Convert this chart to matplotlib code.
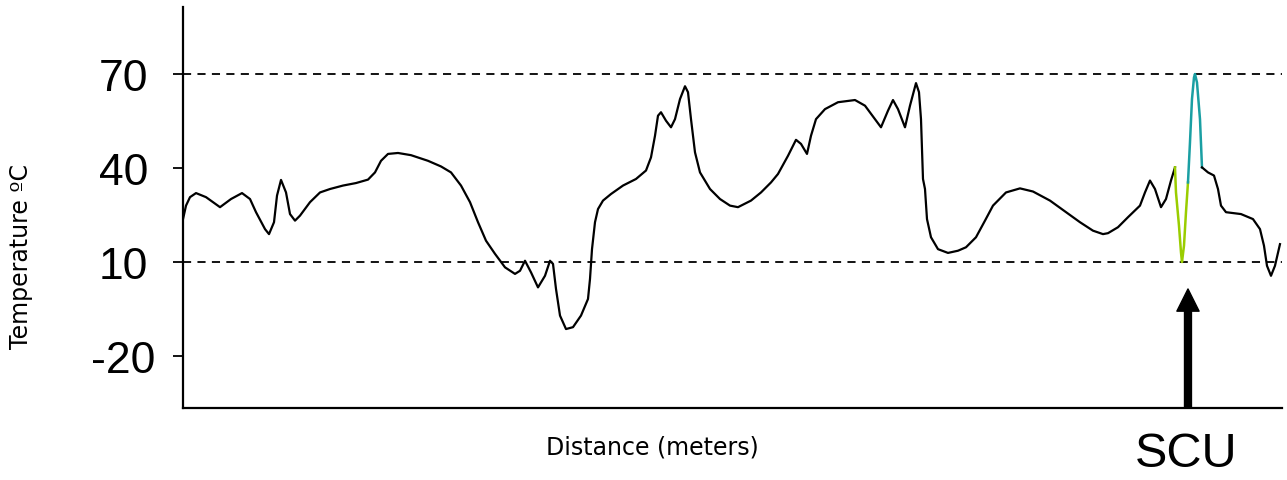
import matplotlib
matplotlib.use("Agg")
import matplotlib.pyplot as plt

# temperature profile along the line (distance units, degrees C)
dist_main = [0, 3, 7, 13, 23, 37, 48, 59, 67, 73, 82, 86, 91, 94, 98, 103, 107, 112, 117, 127,
             137, 147, 160, 173, 185, 192, 198, 205, 215, 228, 245, 258, 268, 278, 287,
             295, 303, 312, 322, 332, 337, 342, 348, 355, 362, 367,
             370, 373, 377, 383, 390, 398, 405, 407, 409, 412, 415, 420, 428, 440, 453,
             463, 468, 472, 475, 478, 483, 488, 492, 497, 502, 505, 508, 512, 517, 527,
             537, 547, 555, 568, 578, 588, 595, 605, 613, 618, 624, 628, 633, 642, 655,
             672, 682, 692, 698, 705, 710, 715, 722, 727, 733, 736, 738, 740,
             742, 744, 748, 755, 765, 775, 783, 793, 802, 810, 823, 837, 850, 867, 883,
             897, 910, 920, 925, 935, 945, 957, 962, 967, 972, 978, 983, 988, 992]
temp_main = [23.7, 28.0, 30.7, 32.0, 30.7, 27.5, 30.1, 32.0, 30.1, 25.9, 20.5, 18.9, 22.7, 31.2,
             36.2, 32.2, 25.3, 23.2, 24.8, 29.1,
             32.2, 33.3, 34.4, 35.2, 36.3, 38.6, 42.3, 44.5, 44.8, 44.1, 42.3, 40.5, 38.6, 34.4, 29.1,
             22.7, 16.8, 12.6, 8.3, 6.2, 7.2, 10.4, 6.7, 1.9, 5.6, 10.4,
             9.4, 1.4, -7.1, -11.4, -10.8, -7.1, -1.8, 4.6, 14.1, 22.7, 26.9, 29.6, 31.7, 34.4, 36.5,
             39.2, 43.4, 50.3, 56.7, 57.8, 55.1, 53.0, 55.6, 62.0, 66.1, 64.2, 55.6, 45.0, 38.6, 33.3,
             30.1, 28.0, 27.5, 29.6, 32.2, 35.4, 38.1, 43.9, 49.0, 47.7, 44.5, 50.3, 55.6, 58.8, 61.0,
             61.7, 59.9, 55.6, 53.0, 58.3, 61.7, 58.8, 53.0, 59.9, 67.1, 64.2, 55.6, 36.5,
             33.3, 23.7, 17.9, 14.1, 12.9, 13.6, 14.7, 17.9, 23.2, 28.0, 32.2, 33.5, 32.5, 29.6, 25.9,
             22.7, 20.0, 18.9, 19.2, 21.1, 24.3, 28.0, 32.2, 36.0, 33.3, 27.5, 30.1, 36.0, 40.2]

# stretch at the SCU: cold dip and hot peak
dist_cold = [992, 993, 996, 998, 999, 1001, 1003, 1005]
temp_cold = [40.2, 32.2, 21.6, 13.1, 10.0, 15.2, 25.9, 35.4]

dist_hot = [1005, 1007, 1009, 1011, 1012, 1014, 1017, 1019]
temp_hot = [35.4, 48.2, 62.0, 68.9, 70.0, 67.3, 55.6, 40.2]

dist_tail = [1019, 1025, 1031, 1035, 1038, 1043, 1058, 1070, 1077, 1081, 1084, 1088, 1092, 1097]
temp_tail = [40.2, 38.6, 37.6, 33.3, 28.0, 25.9, 25.3, 23.7, 20.5, 15.2, 8.8, 5.6, 8.8, 15.7]

yticks = [-20, 10, 40, 70]
limits = [10, 70]
scu_pos = 1005

fig = plt.figure(figsize=(12.87, 4.81), dpi=100)
ax = fig.add_axes([0.1422, 0.1497, 0.8539, 0.8337])

ax.plot(dist_main, temp_main, color='black', lw=1.6, solid_joinstyle='round')
ax.plot(dist_cold, temp_cold, color='#9acd00', lw=1.8, solid_joinstyle='round')
ax.plot(dist_hot, temp_hot, color='#1a9fa3', lw=1.8, solid_joinstyle='round')
ax.plot(dist_tail, temp_tail, color='black', lw=1.6, solid_joinstyle='round')

for lim in limits:
    ax.axhline(lim, color='black', lw=1.3, linestyle=(0, (4.5, 3.5)), zorder=0)

ax.set_xlim(0, 1099)
ax.set_ylim(-36.6, 91.4)
ax.set_xticks([])
ax.set_yticks(yticks)
ax.set_yticklabels([str(t) for t in yticks], fontfamily='Liberation Sans', fontsize=32,
                   ha='center')
ax.tick_params(axis='y', length=7, width=1.3, pad=36)

ax.spines['top'].set_visible(False)
ax.spines['right'].set_visible(False)
ax.spines['left'].set_linewidth(1.6)
ax.spines['bottom'].set_linewidth(1.6)

# SCU marker arrow
ax.annotate('', xy=(scu_pos, 1.4), xytext=(scu_pos, -36.6),
            arrowprops=dict(width=5, headwidth=16, headlength=16, color='black', shrink=0),
            annotation_clip=False)

fig.text(0.922, 0.056, 'SCU', fontfamily='Liberation Sans', fontsize=35, ha='center', va='center')
fig.text(0.507, 0.069, 'Distance (meters)', fontsize=17, ha='center', va='center')
fig.text(0.016, 0.466, 'Temperature ºC', fontsize=17, ha='center', va='center', rotation=90)

fig.savefig('out.png', dpi=100)
